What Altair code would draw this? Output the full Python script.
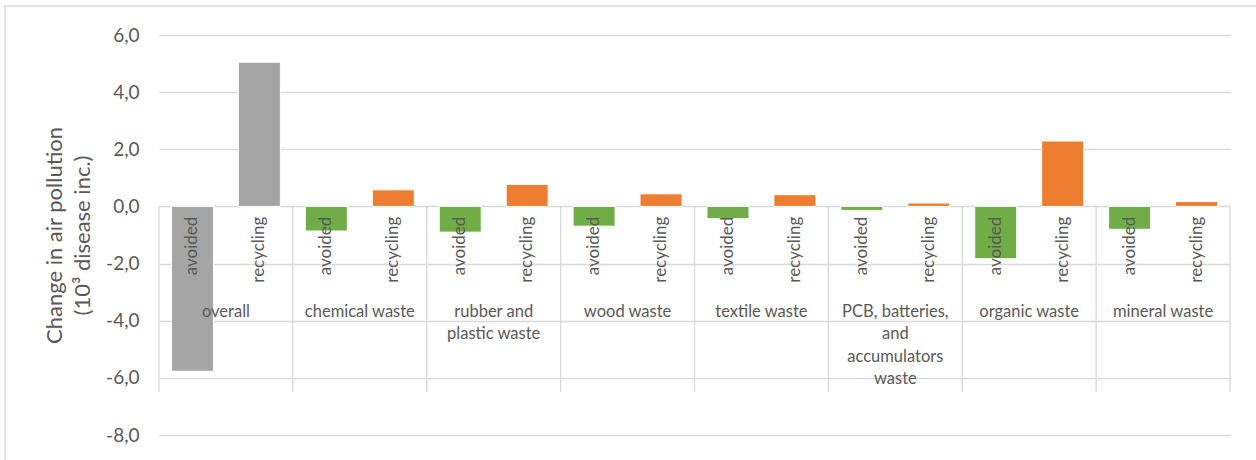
import altair as alt
import pandas as pd

# Waste categories (line breaks follow the wrapped axis labels)
groups = [
    "overall",
    "chemical waste",
    "rubber and\nplastic waste",
    "wood waste",
    "textile waste",
    "PCB, batteries,\nand\naccumulators\nwaste",
    "organic waste",
    "mineral waste",
]
# Change in air pollution, 10^3 disease incidences
avoided = [-5.77, -0.86, -0.90, -0.69, -0.43, -0.14, -1.83, -0.80]
recycling = [5.05, 0.58, 0.77, 0.44, 0.41, 0.12, 2.29, 0.17]
y_ticks = [-8, -6, -4, -2, 0, 2, 4, 6]

FONT = "Lato"
TEXT = "#595959"
GRID = "#D9D9D9"

rows = []
for i, g in enumerate(groups):
    for kind, vals, off in (("avoided", avoided, 0.25), ("recycling", recycling, 0.75)):
        rows.append({
            "group": g,
            "kind": kind,
            "pos": i + off,
            "value": vals[i],
            "colour": "overall" if i == 0 else kind,
            "label_y": -0.36,
        })
bars_df = pd.DataFrame(rows)
groups_df = pd.DataFrame({
    "label": groups,
    "mid": [i + 0.5 for i in range(len(groups))],
    "label_y": [-3.41] * len(groups),
})
seps_df = pd.DataFrame({
    "edge": list(range(len(groups) + 1)),
    "top": [0.0] * (len(groups) + 1),
    "bottom": [-6.5] * (len(groups) + 1),
})

x_scale = alt.Scale(domain=[0, len(groups)], nice=False, zero=False, padding=0)
y_scale = alt.Scale(domain=[-8, 6], nice=False)

# decimal comma and a plain hyphen for negatives
y_axis = alt.Axis(
    values=y_ticks,
    labelExpr="replace(replace(format(datum.value, '.1f'), '.', ','), '\u2212', '-')",
    grid=True,
    gridColor=GRID,
    gridWidth=1.3,
    domain=False,
    ticks=False,
    tickSize=0,
    labelPadding=20,
    labelFont=FONT,
    labelFontSize=19,
    labelColor=TEXT,
    title=["Change in air pollution", "(10³ disease inc.)"],
    titleFont=FONT,
    titleFontSize=22,
    titleFontWeight="normal",
    titleColor=TEXT,
    titlePadding=11,
    titleLineHeight=28,
)

base = alt.Chart(bars_df)

frame = alt.Chart(pd.DataFrame({"k": [0]})).mark_rect(
    fill="transparent", stroke=GRID, strokeWidth=1.5, clip=False
).encode(
    x=alt.value(-154), x2=alt.value(1110), y=alt.value(-29), y2=alt.value(440)
)

bars = base.mark_bar(size=42, stroke="white", strokeWidth=1).encode(
    x=alt.X("pos:Q", scale=x_scale, axis=None),
    y=alt.Y("value:Q", scale=y_scale, axis=y_axis),
    color=alt.Color(
        "colour:N",
        scale=alt.Scale(domain=["overall", "avoided", "recycling"],
                        range=["#A5A5A5", "#70AD47", "#ED7D31"]),
        legend=None,
    ),
)

separators = alt.Chart(seps_df).mark_rule(color=GRID, strokeWidth=1.3).encode(
    x=alt.X("edge:Q", scale=x_scale, axis=None),
    y=alt.Y("top:Q", scale=y_scale, axis=y_axis),
    y2="bottom:Q",
)

kind_labels = base.mark_text(
    angle=270, align="right", baseline="middle", font=FONT, fontSize=17, color=TEXT
).encode(
    x=alt.X("pos:Q", scale=x_scale, axis=None),
    y=alt.Y("label_y:Q", scale=y_scale, axis=y_axis),
    text="kind:N",
)

group_labels = alt.Chart(groups_df).mark_text(
    align="center", baseline="top", lineBreak="\n", lineHeight=22.5,
    font=FONT, fontSize=16.5, color=TEXT
).encode(
    x=alt.X("mid:Q", scale=x_scale, axis=None),
    y=alt.Y("label_y:Q", scale=y_scale, axis=y_axis),
    text="label:N",
)

chart = alt.layer(frame, separators, bars, kind_labels, group_labels).properties(
    width=1071,
    height=400,
    autosize=alt.AutoSizeParams(type="none"),
    padding={"left": 159, "top": 35, "right": 26, "bottom": 25},
).configure(background="white", view=alt.ViewConfig(stroke=None))

chart.save("out.html", embed_options={"renderer": "svg", "actions": False})
